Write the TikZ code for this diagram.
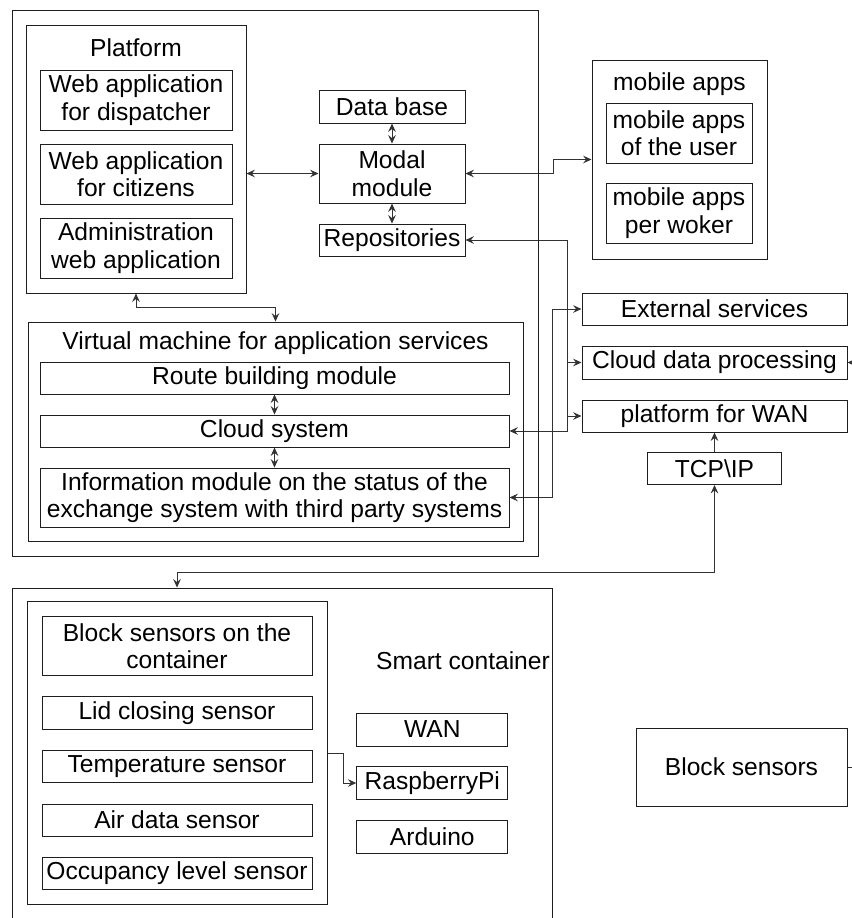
\documentclass[tikz,border=0pt]{standalone}
\usepackage{fontspec}
\setmainfont{Liberation Sans}
\usetikzlibrary{arrows.meta}
\pgfdeclarelayer{bg}
\pgfsetlayers{bg,main}
\definecolor{boxgray}{RGB}{30,30,30}
\definecolor{linegray}{RGB}{50,50,50}
\tikzset{
  box/.style 2 args={draw=boxgray, line width=0.5pt, rectangle, inner sep=0pt, align=center,
    minimum width={#1*0.5pt}, minimum height={#2*0.5pt}},
  title/.style={anchor=base, inner sep=0pt},
  link/.style={draw=linegray, line width=0.5pt},
  >={Stealth[length=4.2pt,width=3.8pt,inset=1.5pt]},
}

\begin{document}
\begin{tikzpicture}[x=0.5pt, y=-0.5pt, font=\fontsize{12.3}{13.8}\selectfont]
        \useasboundingbox (0,0) rectangle (852,918);
        \clip (0,0) rectangle (852,918);
        % server side
        \node (server) [box={526}{546}] at (275,283) {};
        \node (platform) [box={220}{268}] at (136,159) {};
        \node (platformtitle) [title] at (136,56) {Platform};
        \node (webdisp) [box={192}{60}] at (136,100) {Web application\\for dispatcher};
        \node (webcit) [box={192}{60}] at (136,174) {Web application\\for citizens};
        \node (webadm) [box={192}{60}] at (136,248) {Administration\\web application};
        \node (db) [box={146}{33}] at (392,106.5) {Data base};
        \node (modal) [box={146}{59}] at (392,173.5) {Modal\\module};
        \node (repo) [box={146}{32}] at (392,240) {Repositories};
        \node (vm) [box={495}{219}] at (275.5,431.5) {};
        \node (vmtitle) [title] at (275.5,349) {Virtual machine for application services};
        \node (route) [box={469}{32}] at (274.5,378) {Route building module};
        \node (cloud) [box={469}{32}] at (274.5,431) {Cloud system};
        \node (info) [box={469}{59}] at (274.5,497.5) {Information module on the status of the\\exchange system with third party systems};
        % mobile and external
        \node (mob) [box={175}{199}] at (679.5,159.5) {};
        \node (mobtitle) [title] at (679.5,90) {mobile apps};
        \node (mobuser) [box={146}{60}] at (679,133) {mobile apps\\of the user};
        \node (mobwork) [box={146}{60}] at (679,213) {mobile apps\\per woker};
        \node (ext) [box={265}{32}] at (714.5,309) {External services};
        \node (cdp) [box={265}{33}] at (714.5,362.5) {Cloud data processing};
        \node (pwan) [box={265}{32}] at (714.5,416) {platform for WAN};
        \node (tcp) [box={134}{32}] at (714.5,468.5) {TCP\textbackslash IP};
        % container side
        \node (smart) [box={540}{344}] at (282,760) {};
        \node (smarttitle) [title] at (463,669) {Smart container};
        \node (sensors) [box={300}{303}] at (177,753.3) {};
        \node (bsc) [box={270}{59}] at (177,646.3) {Block sensors on the\\container};
        \node (lid) [box={270}{33}] at (177,713) {Lid closing sensor};
        \node (temp) [box={270}{32}] at (177,766.7) {Temperature sensor};
        \node (air) [box={270}{32}] at (177,820) {Air data sensor};
        \node (occ) [box={270}{32}] at (177,873) {Occupancy level sensor};
        \node (wan) [box={151}{33}] at (432.3,729.5) {WAN};
        \node (rpi) [box={151}{33}] at (432.3,783) {RaspberryPi};
        \node (ard) [box={151}{33}] at (432.3,837) {Arduino};
        \node (bs) [box={211}{78}] at (741.5,767) {Block sensors};
        \coordinate (busa) at (567.7,240);
        \coordinate (busb) at (552.7,309);
        \coordinate (drop) at (177,572);
        \begin{pgfonlayer}{bg}
                \draw [link,<->] (platform.east |- modal.west) -- (modal.west);
                \draw [link,<->] (db.south) -- (modal.north);
                \draw [link,<->] (modal.south) -- (repo.north);
                \draw [link,<->] (modal.east) -- ++(88,0) |- (mob.west);
                \draw [link,<->] (platform.south) -- ++(0,14) -| (vm.north);
                \draw [link,<->] (route.south) -- (cloud.north);
                \draw [link,<->] (cloud.south) -- (info.north);
                \draw [link,<->] (repo.east) -| (busa |- cloud.east) -- (cloud.east);
                \draw [link,->] (busa |- cdp.west) -- (cdp.west);
                \draw [link,->] (busa |- pwan.west) -- (pwan.west);
                \draw [link,<->] (ext.west) -| (busb |- info.east) -- (info.east);
                \draw [link,->] (tcp.north) -- (pwan.south);
                \draw [link,<->] (tcp.south) |- (drop) -- (drop |- smart.north);
                \draw [link,->] (sensors.east) -- ++(15.7,0) |- (rpi.west);
                \draw [link,->] (bs.east) -- ++(40,0) |- (cdp.east);
        \end{pgfonlayer}
\end{tikzpicture}
\end{document}
